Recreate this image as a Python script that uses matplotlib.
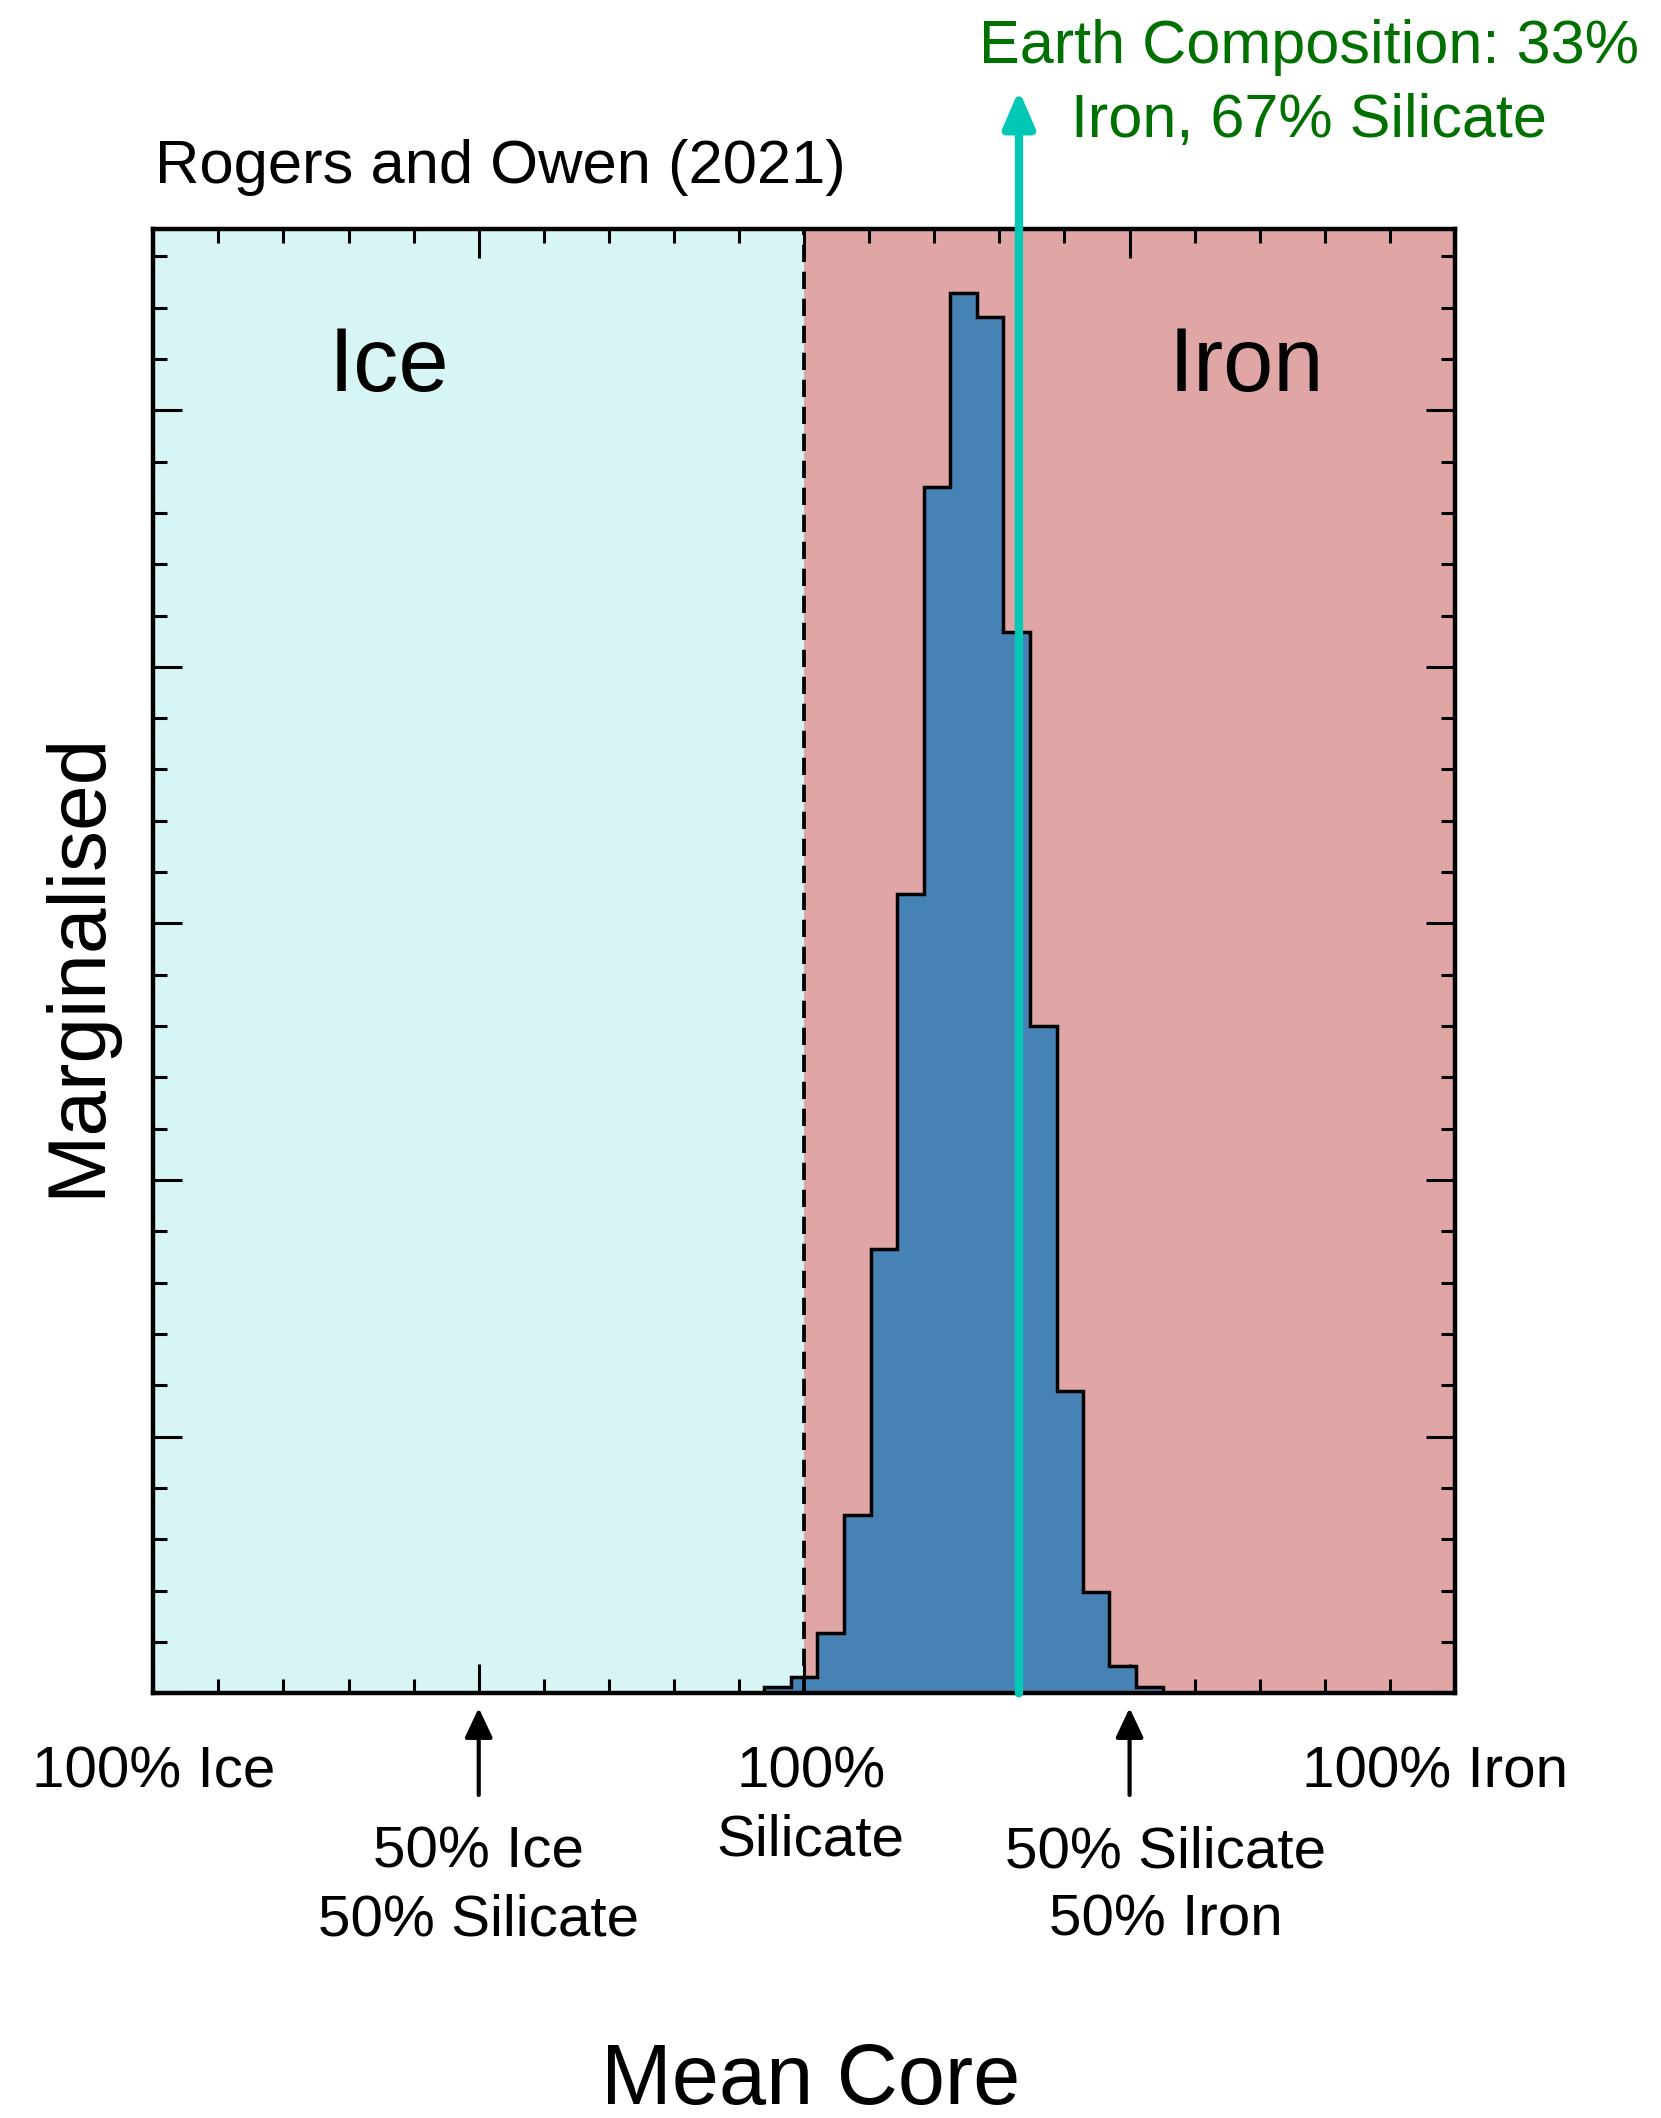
import matplotlib
matplotlib.use('Agg')
from matplotlib import pyplot as plt
from matplotlib.ticker import MultipleLocator
from matplotlib.transforms import blended_transform_factory

plt.rcParams['font.family'] = ['Liberation Sans', 'DejaVu Sans']

# marginalised mean core composition: -1 = pure ice, 0 = pure silicate, 1 = pure iron
bin_edges = [-0.061, -0.020, 0.020, 0.061, 0.102, 0.143, 0.184, 0.224,
             0.265, 0.306, 0.347, 0.388, 0.429, 0.469, 0.510, 0.551]
counts = [0.025, 0.064, 0.235, 0.696, 1.730, 3.115, 4.702, 5.456,
          5.362, 4.135, 2.600, 1.177, 0.393, 0.106, 0.025]

earth_core = 0.33
earth_text = ['Earth Composition: 33%', 'Iron, 67% Silicate']

end_labels = [['100% Ice'], ['100%', 'Silicate'], ['100% Iron']]
end_x = [-1.0, 0.01, 0.97]
mix_labels = [['50% Ice', '50% Silicate'], ['50% Silicate', '50% Iron']]
mix_x = [-0.5, 0.5]
mix_text_x = [-0.5, 0.555]

W, H = 1661, 2118


def fy(px):
    # pixel row (from top) -> figure fraction
    return 1 - px / H


fig = plt.figure(figsize=(W / 100, H / 100), dpi=100)
ax = fig.add_axes([153.3 / W, fy(1693.3), (1455 - 153.3) / W, (1693.3 - 229.3) / H])
ax.set_xlim(-1, 1)
ax.set_ylim(0, 5.705)

ax.axvspan(-1, 0, color='#d7f5f4', zorder=0, lw=0)
ax.axvspan(0, 1, color='#e0a6a6', zorder=0, lw=0)

ax.stairs(counts, bin_edges, fill=True, color='#4682b4', zorder=2)
ax.stairs(counts, bin_edges, color='k', lw=2.5, zorder=2.1)
ax.axvline(0, color='k', lw=2.7, ls=(0, (4.6, 2.6)), zorder=3)

ax.text(-0.6375, 5.075, 'Ice', fontsize=65, ha='center', va='baseline')
ax.text(0.68, 5.075, 'Iron', fontsize=65, ha='center', va='baseline')

# earth composition arrow, runs out of the top of the axes
ax.annotate('', xy=(earth_core, 1.095), xytext=(earth_core, 0),
            xycoords=('data', 'axes fraction'), textcoords=('data', 'axes fraction'),
            arrowprops=dict(arrowstyle='-|>,head_length=22,head_width=9.5',
                            mutation_scale=1, color='#00c8b4', lw=6,
                            shrinkA=0, shrinkB=0),
            annotation_clip=False, zorder=5)
for line, ypx in zip(earth_text, [63, 137]):
    fig.text((804.2 + 0.776 * 650.85) / W, fy(ypx), line, color='#007000',
             fontsize=44, ha='center', va='baseline')

ax.xaxis.set_major_locator(MultipleLocator(0.5))
ax.xaxis.set_minor_locator(MultipleLocator(0.1))
ax.yaxis.set_major_locator(MultipleLocator(1))
ax.yaxis.set_minor_locator(MultipleLocator(0.2))
ax.tick_params(which='both', direction='in', top=True, right=True,
               labelbottom=False, labelleft=False, width=2.2)
ax.tick_params(which='major', length=21)
ax.tick_params(which='minor', length=10)
for s in ax.spines.values():
    s.set_linewidth(3.2)

# composition labels under the axis
trans = blended_transform_factory(ax.transData, fig.transFigure)
for lines, x in zip(end_labels, end_x):
    for line, ypx in zip(lines, [1787, 1855]):
        ax.text(x, fy(ypx), line, transform=trans, fontsize=42,
                ha='center', va='baseline', clip_on=False)
for lines, x, tx in zip(mix_labels, mix_x, mix_text_x):
    ax.annotate('', xy=(x, fy(1708)), xytext=(x, fy(1795)),
                xycoords=trans, textcoords=trans,
                arrowprops=dict(arrowstyle='-|>,head_length=18,head_width=8.5',
                                mutation_scale=1, color='k', lw=3,
                                shrinkA=0, shrinkB=0),
                annotation_clip=False)
    for line, ypx in zip(lines, [1868, 1936]):
        ax.text(tx, fy(ypx), line, transform=trans, fontsize=42,
                ha='center', va='baseline', clip_on=False)

fig.text(155 / W, fy(183), 'Rogers and Owen (2021)', fontsize=44.3,
         ha='left', va='baseline')
fig.text(811 / W, fy(2104), 'Mean Core', fontsize=61, ha='center', va='baseline')
fig.text(78 / W, fy(964), 'Marginalised', fontsize=59, rotation=90,
         ha='center', va='center')

fig.savefig('out.png', dpi=100)
